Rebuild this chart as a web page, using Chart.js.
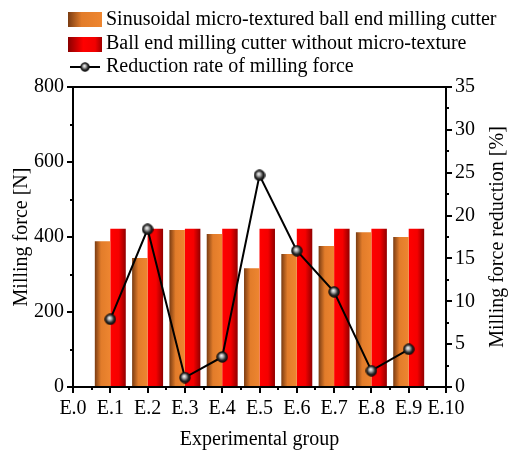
<!DOCTYPE html>
<html>
<head>
<meta charset="utf-8">
<script src="https://cdn.jsdelivr.net/npm/chart.js@4.4.0/dist/chart.umd.min.js"></script>
<style>
  html, body { margin: 0; padding: 0; background: #fff; }
</style>
</head>
<body>
<canvas id="chart" width="509" height="451"></canvas>
<script>
// Força de fresamento por grupo experimental + taxa de redução (eixo direito)
const grupos = ["E.0", "E.1", "E.2", "E.3", "E.4", "E.5", "E.6", "E.7", "E.8", "E.9", "E.10"];
const forcaTexturizada = [null, 389, 344, 419, 408, 317, 355, 376, 413, 400, null];
const forcaSemTextura = [null, 422, 422, 422, 422, 422, 422, 422, 422, 422, null];
const taxaReducao = [null, 7.9, 18.4, 1.1, 3.5, 24.7, 15.9, 11.1, 1.9, 4.4, null];

const rotulos = [
  "Sinusoidal micro-textured ball end milling cutter",
  "Ball end milling cutter without micro-texture",
  "Reduction rate of milling force",
];
const tituloX = "Experimental group";
const tituloY = "Milling force [N]";
const tituloY1 = "Milling force reduction [%]";

const FONTE = '"Liberation Serif", "Times New Roman", serif';
const CAT_PCT = 0.83;

// esfera preta com brilho, usada como marcador da linha
function esfera(d) {
  const c = document.createElement("canvas");
  c.width = d; c.height = d;
  const g = c.getContext("2d");
  const r = d / 2;
  const grad = g.createRadialGradient(r * 0.85, r * 0.75, 0, r, r, r);
  grad.addColorStop(0, "#ffffff");
  grad.addColorStop(0.3, "#b0b0b0");
  grad.addColorStop(0.65, "#2a2a2a");
  grad.addColorStop(1, "#000000");
  g.fillStyle = grad;
  g.beginPath();
  g.arc(r, r, r - 0.3, 0, Math.PI * 2);
  g.fill();
  return c;
}
const marcador = esfera(12);

function gradLaranja(ctx, x0, x1) {
  const g = ctx.createLinearGradient(x0, 0, x1, 0);
  g.addColorStop(0, "#7a3c12");
  g.addColorStop(0.4, "#e27c2a");
  g.addColorStop(1, "#ee8630");
  return g;
}
function gradVermelho(ctx, x0, x1) {
  const g = ctx.createLinearGradient(x0, 0, x1, 0);
  g.addColorStop(0, "#ff0000");
  g.addColorStop(0.55, "#f50000");
  g.addColorStop(1, "#900000");
  return g;
}

function corBarra(tipo) {
  return (c) => {
    const chart = c.chart;
    if (!chart.chartArea || c.type !== "data") return tipo === 0 ? "#e27c2a" : "#ff0000";
    const xs = chart.scales.x;
    const cx = xs.getPixelForValue(c.dataIndex);
    const passo = xs.getPixelForValue(1) - xs.getPixelForValue(0);
    const w = passo * CAT_PCT / 2;
    return tipo === 0 ? gradLaranja(chart.ctx, cx - w, cx) : gradVermelho(chart.ctx, cx, cx + w);
  };
}

// ticks menores, borda superior, títulos dos eixos e legenda
const extras = {
  id: "extras",
  afterDraw(chart) {
    const ctx = chart.ctx;
    const a = chart.chartArea;
    const { x, y, y1 } = chart.scales;
    ctx.save();
    ctx.strokeStyle = "#000";
    ctx.lineWidth = 2;
    ctx.beginPath();
    ctx.moveTo(a.left - 1, a.top);
    ctx.lineTo(a.right + 1, a.top);
    for (let v = 100; v < 800; v += 200) {
      const p = Math.round(y.getPixelForValue(v));
      ctx.moveTo(a.left - 3, p); ctx.lineTo(a.left, p);
    }
    for (let v = 2.5; v < 35; v += 5) {
      const p = Math.round(y1.getPixelForValue(v));
      ctx.moveTo(a.right, p); ctx.lineTo(a.right + 3, p);
    }
    for (let i = 0; i < grupos.length - 1; i++) {
      const p = Math.round((x.getPixelForValue(i) + x.getPixelForValue(i + 1)) / 2);
      ctx.moveTo(p, a.bottom); ctx.lineTo(p, a.bottom + 3);
    }
    ctx.stroke();

    ctx.fillStyle = "#000";
    ctx.font = "20px " + FONTE;
    ctx.textAlign = "center";
    ctx.textBaseline = "middle";
    ctx.fillText(tituloX, (a.left + a.right) / 2, 440);
    ctx.save();
    ctx.translate(22, (a.top + a.bottom) / 2);
    ctx.rotate(-Math.PI / 2);
    ctx.fillText(tituloY, 0, 0);
    ctx.restore();
    ctx.save();
    ctx.translate(498, (a.top + a.bottom) / 2);
    ctx.rotate(-Math.PI / 2);
    ctx.fillText(tituloY1, 0, 0);
    ctx.restore();

    // legenda
    ctx.textAlign = "left";
    const sx0 = 68, sx1 = 102, tx = 106;
    const linhas = [20, 44, 67];
    ctx.fillStyle = gradLaranja(ctx, sx0, sx1);
    ctx.fillRect(sx0, 12, sx1 - sx0, 15);
    const gv = ctx.createLinearGradient(sx0, 0, sx1, 0);
    gv.addColorStop(0, "#8a0000");
    gv.addColorStop(0.45, "#ff0000");
    gv.addColorStop(0.8, "#f20000");
    gv.addColorStop(1, "#a00000");
    ctx.fillStyle = gv;
    ctx.fillRect(sx0, 37, sx1 - sx0, 15);
    ctx.beginPath();
    ctx.moveTo(sx0 + 2, linhas[2]); ctx.lineTo(sx1 - 2, linhas[2]);
    ctx.stroke();
    ctx.drawImage(marcador, (sx0 + sx1) / 2 - 5, linhas[2] - 5, 10, 10);
    ctx.fillStyle = "#000";
    rotulos.forEach((t, i) => ctx.fillText(t, tx, linhas[i]));
    ctx.restore();
  },
};

const eixoFonte = { family: FONTE, size: 20 };
const grade = { display: true, drawOnChartArea: false, drawTicks: true, tickLength: 6, lineWidth: 2, color: "#000", offset: false };
const borda = { display: true, width: 2, color: "#000" };

new Chart(document.getElementById("chart"), {
  type: "bar",
  data: {
    labels: grupos,
    datasets: [
      {
        type: "line",
        label: rotulos[2],
        data: taxaReducao,
        yAxisID: "y1",
        borderColor: "#000",
        borderWidth: 2,
        pointStyle: marcador,
        pointRadius: 6,
        tension: 0,
        order: 0,
      },
      {
        label: rotulos[0],
        data: forcaTexturizada,
        yAxisID: "y",
        backgroundColor: corBarra(0),
        borderWidth: 0,
        categoryPercentage: CAT_PCT,
        barPercentage: 1,
        order: 1,
      },
      {
        label: rotulos[1],
        data: forcaSemTextura,
        yAxisID: "y",
        backgroundColor: corBarra(1),
        borderWidth: 0,
        categoryPercentage: CAT_PCT,
        barPercentage: 1,
        order: 1,
      },
    ],
  },
  plugins: [extras],
  options: {
    responsive: false,
    animation: false,
    layout: { padding: { top: 87, left: 0, right: 0, bottom: 0 } },
    scales: {
      x: {
        type: "category",
        offset: false,
        grid: grade,
        border: borda,
        ticks: { color: "#000", font: eixoFonte, padding: 4, autoSkip: false, maxRotation: 0 },
        afterFit: (s) => { s.height = 64; },
      },
      y: {
        position: "left",
        min: 0,
        max: 800,
        grid: grade,
        border: borda,
        ticks: { stepSize: 200, color: "#000", font: eixoFonte, padding: 3 },
        afterFit: (s) => { s.width = 73; },
      },
      y1: {
        position: "right",
        min: 0,
        max: 35,
        grid: grade,
        border: borda,
        ticks: { stepSize: 5, color: "#000", font: eixoFonte, padding: 3 },
        afterFit: (s) => { s.width = 63; },
      },
    },
    plugins: {
      legend: { display: false },
      tooltip: { enabled: false },
    },
  },
});
</script>
</body>
</html>
